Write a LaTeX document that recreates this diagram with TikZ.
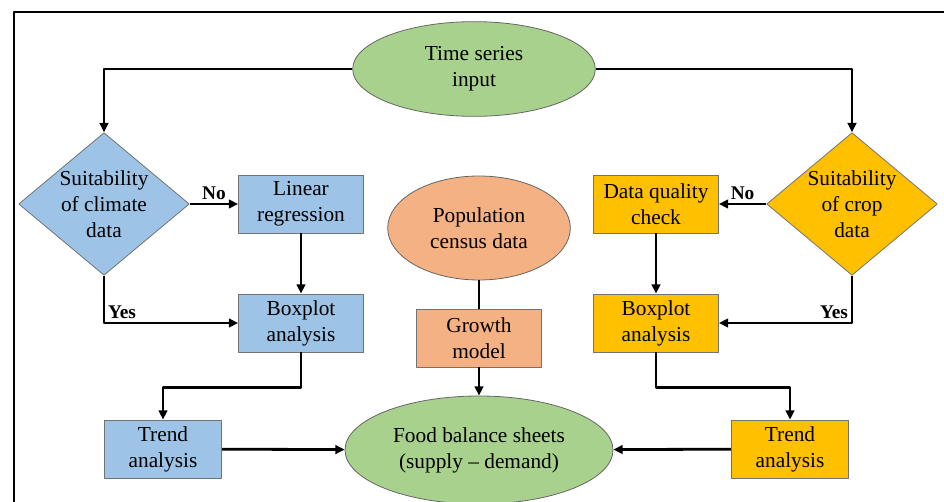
\documentclass[tikz,border=0pt]{standalone}
\usepackage{fontspec}
\setmainfont{Liberation Serif}
\usetikzlibrary{shapes.geometric,arrows.meta}
\definecolor{climblue}{RGB}{157,195,230}
\definecolor{cropgold}{RGB}{255,192,0}
\definecolor{popsalmon}{RGB}{244,177,131}
\definecolor{inpgreen}{RGB}{169,209,142}
\begin{document}
\begin{tikzpicture}[x=0.75pt,y=-0.75pt,line join=round,
    every node/.style={font=\fontsize{16}{19.5}\selectfont,align=center},
    proc/.style={rectangle,draw=black!55,line width=0.6pt,minimum width=93.75pt,minimum height=43.5pt,inner sep=1pt},
    decide/.style={diamond,draw=black!55,line width=0.6pt,minimum width=128pt,minimum height=107pt,inner sep=0pt,aspect=1.19},
    oval/.style={ellipse,draw=black!60,line width=0.6pt,inner sep=0pt},
    arr/.style={line width=2.1pt,-{Triangle[length=7pt,width=6.5pt]}},
    conn/.style={line width=2.1pt},
    lbl/.style={font=\fontsize{14.5}{16}\selectfont\bfseries,inner sep=2pt}]
\useasboundingbox (0,0) rectangle (944,502);
\clip (0,0) rectangle (944,502);
\draw[line width=1.5pt] (14,12) rectangle (960,520);
% input and decisions
\node[oval,fill=inpgreen,minimum width=182pt,minimum height=71pt] (tsi) at (474,69) {Time series\\input};
\node[decide,fill=climblue] (cd) at (104,204) {Suitability\\of climate\\data};
\node[decide,fill=cropgold] (crd) at (852,204) {Suitability\\of crop\\data};
% climate side
\node[proc,fill=climblue] (lr) at (301,204) {Linear\\regression};
\node[proc,fill=climblue] (bpl) at (301,323) {Boxplot\\analysis};
\node[proc,fill=climblue,minimum width=88pt] (trl) at (163,449) {Trend\\analysis};
% crop side
\node[proc,fill=cropgold] (dq) at (656,204) {Data quality\\check};
\node[proc,fill=cropgold] (bpr) at (656,323) {Boxplot\\analysis};
\node[proc,fill=cropgold,minimum width=88pt] (trr) at (790,449) {Trend\\analysis};
% population
\node[oval,fill=popsalmon,minimum width=137pt,minimum height=78pt] (pop) at (479,228) {Population\\census data};
\node[proc,fill=popsalmon] (gm) at (479,338) {Growth\\model};
\node[oval,fill=inpgreen,minimum width=201pt,minimum height=81pt] (fbs) at (479,450) {Food balance sheets\\(supply -- demand)};
% connectors
\draw[arr] (tsi.west) -| (cd.north);
\draw[arr] (tsi.east) -| (crd.north);
\draw[arr] (cd.east) -- (lr.west) node[lbl,midway,above]{No};
\draw[arr] (crd.west) -- (dq.east) node[lbl,midway,above]{No};
\draw[arr] (cd.south) |- (bpl.west) node[lbl,pos=0.5,above right]{Yes};
\draw[arr] (crd.south) |- (bpr.east) node[lbl,pos=0.5,above left]{Yes};
\draw[arr] (lr) -- (bpl);
\draw[arr] (dq) -- (bpr);
\draw[arr] (bpl.south) -- ++(0,35) -| (trl.north);
\draw[arr] (bpr.south) -- ++(0,35) -| (trr.north);
\draw[conn] (pop) -- (gm);
\draw[arr] (gm) -- (fbs);
\draw[arr] (trl) -- (fbs);
\draw[arr] (trr) -- (fbs);
\end{tikzpicture}
\end{document}
